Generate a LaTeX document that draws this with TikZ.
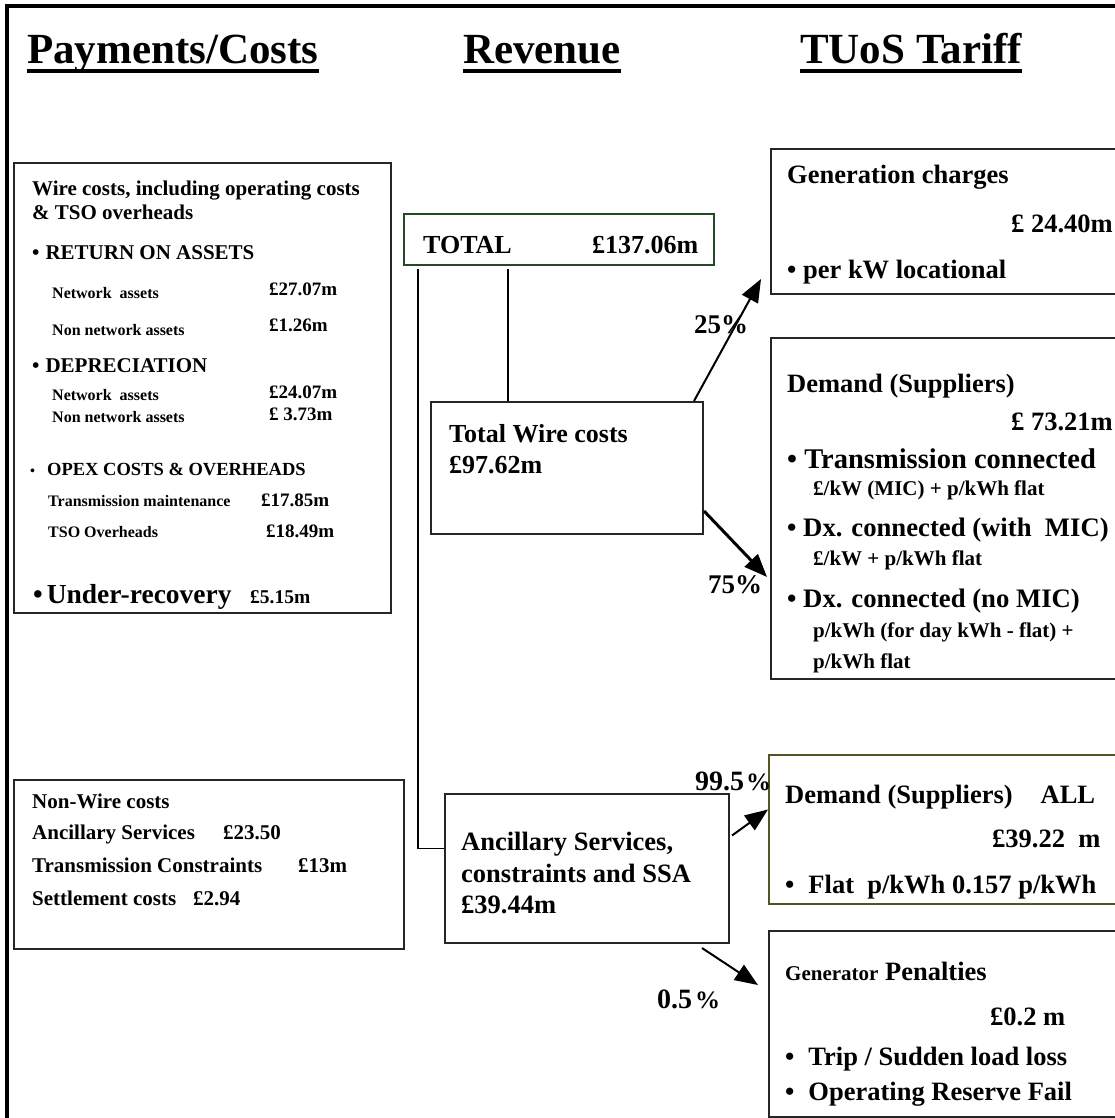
\documentclass[tikz,border=0pt]{standalone}
\usepackage{fontspec}
\setmainfont{Liberation Serif}
\usetikzlibrary{arrows.meta}

\definecolor{totalgreen}{RGB}{35,75,35}
\definecolor{allolive}{RGB}{85,85,35}

\newcommand{\fs}[1]{\fontsize{#1}{#1}\selectfont}

\tikzset{
  panel/.style={draw=black!85, line width=2pt, anchor=north west, inner sep=0pt},
  txt/.style={anchor=base west, inner sep=0pt, font=\bfseries\fs{#1}},
  heading/.style={anchor=base west, inner sep=0pt, font=\bfseries\fs{43}},
  link/.style={line width=1.6pt},
  flow/.style={line width=#1, -{Triangle[length=23pt,width=18pt]}},
}

\begin{document}
\begin{tikzpicture}[x=1pt, y=-1pt]
  \useasboundingbox (0,0) rectangle (1115,1118);
  \clip (0,0) rectangle (1115,1118);

  % Frame
  \draw[line width=3.5pt] (7,1130) -- (7,6) -- (1130,6);

  % Headings
  \node[heading] (hpay) at (27,64) {Payments/Costs};
  \node[heading] (hrev) at (463,64) {Revenue};
  \node[heading] (htuos) at (800,64) {TUoS Tariff};
  \foreach \h in {hpay,hrev,htuos}
    \draw[line width=4.5pt] ([yshift=-7pt]\h.base west) -- ([yshift=-7pt]\h.base east);

  % Payments/Costs column
  \node[panel, minimum width=377pt, minimum height=450pt] (wire) at (13,162) {};
  \node[txt=21] (w1) at (32,195) {Wire costs, including operating costs};
  \node[txt=21] (w2) at (32,219) {\& TSO overheads};
  \node[txt=21] (w3) at (32,259) {•\hspace{6pt}RETURN ON ASSETS};
  \node[txt=16] (w4) at (52,298) {Network\ \ assets};
  \node[txt=19] (w4v) at (269,295) {£27.07m};
  \node[txt=16] (w5) at (52,335) {Non network assets};
  \node[txt=19] (w5v) at (269,331) {£1.26m};
  \node[txt=21] (w6) at (32,372) {•\hspace{6pt}DEPRECIATION};
  \node[txt=16] (w7) at (52,400) {Network\ \ assets};
  \node[txt=19] (w7v) at (269,398) {£24.07m};
  \node[txt=16] (w8) at (52,422) {Non network assets};
  \node[txt=19] (w8v) at (269,420) {£ 3.73m};
  \node[txt=14] (w9b) at (30,475) {•};
  \node[txt=18.5] (w9) at (47,475) {OPEX COSTS \& OVERHEADS};
  \node[txt=16] (w10) at (48,506) {Transmission maintenance};
  \node[txt=19] (w10v) at (261,506) {£17.85m};
  \node[txt=16] (w11) at (48,537) {TSO Overheads};
  \node[txt=19] (w11v) at (266,537) {£18.49m};
  \node[txt=27.5] (w12) at (33,603) {•\hspace{4pt}Under-recovery};
  \node[txt=19.5] (w12v) at (250,603) {£5.15m};

  \node[panel, minimum width=390pt, minimum height=169pt] (nonwire) at (13,779) {};
  \node[txt=21] (n1) at (32,808) {Non-Wire costs};
  \node[txt=21] (n2) at (32,839) {Ancillary Services};
  \node[txt=21] (n2v) at (223,839) {£23.50};
  \node[txt=21] (n3) at (32,872) {Transmission Constraints};
  \node[txt=21] (n3v) at (298,872) {£13m};
  \node[txt=21] (n4) at (32,905) {Settlement costs};
  \node[txt=21] (n4v) at (193,905) {£2.94};

  % Revenue column
  \node[panel, draw=totalgreen, minimum width=310pt, minimum height=51pt] (total) at (403,213) {};
  \node[txt=26] (t1) at (423,253) {TOTAL};
  \node[txt=26] (t1v) at (592,253) {£137.06m};

  \node[panel, minimum width=272pt, minimum height=132pt] (twc) at (430,401) {};
  \node[txt=26] (c1) at (449,442) {Total Wire costs};
  \node[txt=26] (c2) at (449,473) {£97.62m};

  \node[panel, minimum width=284pt, minimum height=149pt] (anc) at (444,793) {};
  \node[txt=26.5] (a1) at (461,850) {Ancillary Services,};
  \node[txt=26.5] (a2) at (461,882) {constraints and SSA};
  \node[txt=26.5] (a3) at (461,913) {£39.44m};

  % TUoS Tariff column
  \node[panel, minimum width=360pt, minimum height=145pt] (gen) at (770,148) {};
  \node[txt=26.5] (g1) at (787,183) {Generation charges};
  \node[txt=26.5] (g2) at (1011,232) {£ 24.40m};
  \node[txt=26.5] (g3) at (787,278) {• per kW locational};

  \node[panel, minimum width=360pt, minimum height=341pt] (dem) at (770,337) {};
  \node[txt=26.5] (d1) at (787,392) {Demand (Suppliers)};
  \node[txt=26.5] (d2) at (1011,430) {£ 73.21m};
  \node[txt=28.5] (d3) at (787,468) {• Transmission connected};
  \node[txt=21] (d4) at (813,495) {£/kW (MIC) + p/kWh flat};
  \node[txt=26.7] (d5) at (787,536) {• Dx. connected (with\ \ MIC)};
  \node[txt=21] (d6) at (813,565) {£/kW + p/kWh flat};
  \node[txt=26.7] (d7) at (787,607) {• Dx. connected (no MIC)};
  \node[txt=21] (d8) at (813,637) {p/kWh (for day kWh - flat) +};
  \node[txt=21] (d9) at (813,668) {p/kWh flat};

  \node[panel, draw=allolive, minimum width=362pt, minimum height=149pt] (dall) at (768,754) {};
  \node[txt=26.5] (e1) at (785,803) {Demand (Suppliers)\hspace{28pt}ALL};
  \node[txt=26.5] (e2) at (992,847) {£39.22\ \ m};
  \node[txt=26.5] (e3) at (785,893) {•\hspace{14pt}Flat\ \ p/kWh 0.157 p/kWh};

  \node[panel, minimum width=362pt, minimum height=186pt] (pen) at (768,930) {};
  \node[txt=26.5] (p1) at (785,980) {{\fs{21}Generator} Penalties};
  \node[txt=26.5] (p2) at (990,1025) {£0.2 m};
  \node[txt=26.5] (p3) at (785,1065) {•\hspace{14pt}Trip / Sudden load loss};
  \node[txt=26.5] (p4) at (785,1100) {•\hspace{14pt}Operating Reserve Fail};

  % Connectors
  \draw[link] ([xshift=78pt]twc.north west) -- ([xshift=78pt,yshift=-3pt]twc.north west |- total.south);
  \draw[link] ([xshift=15pt,yshift=-3pt]total.south west) |- ([yshift=20pt]anc.west);

  \coordinate (gentip) at ([xshift=-9pt,yshift=16pt]gen.south west);
  \coordinate (demtip) at (767,577);
  \coordinate (pentip) at (758,985);
  \draw[flow=2pt] ([xshift=-10pt]twc.north east) -- (gentip);
  \draw[flow=3pt] ([yshift=-43pt]twc.east) -- (demtip);
  \draw[flow=2pt] ([xshift=2pt,yshift=33pt]anc.east) -- ([yshift=20pt]dall.west);
  \draw[flow=2pt] ([xshift=-28pt,yshift=-4pt]anc.south east) -- (pentip);

  % Shares
  \node[txt=27] (s25) at (694,333) {25\%};
  \node[txt=27] (s75) at (708,593) {75\%};
  \node[txt=28] (s995) at (695,790) {99.5\hspace{2pt}{\fs{25}\%}};
  \node[txt=28] (s05) at (657,1008) {0.5\hspace{3pt}{\fs{25}\%}};
\end{tikzpicture}
\end{document}
